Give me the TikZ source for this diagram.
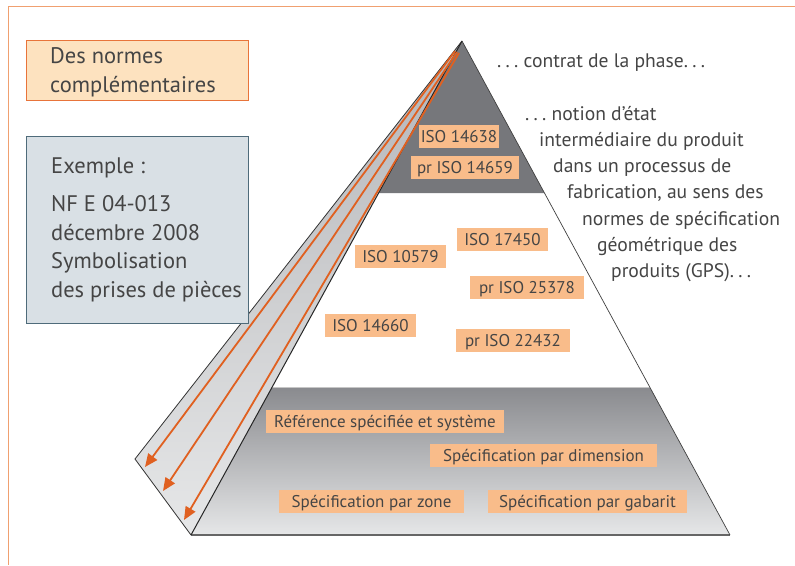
\documentclass[tikz,border=0pt]{standalone}
\usepackage{fontspec}
\setmainfont{PT Sans}
\usetikzlibrary{calc,arrows.meta}
\definecolor{frameor}{HTML}{F0A070}
\definecolor{lblfill}{HTML}{F9BC8A}
\definecolor{titlefill}{HTML}{FDE2BF}
\definecolor{titleedge}{HTML}{E8743A}
\definecolor{exfill}{HTML}{D9E0E5}
\definecolor{exedge}{HTML}{4F6B7A}
\definecolor{topband}{HTML}{76777B}
\definecolor{arrowor}{HTML}{E06020}
\definecolor{txt}{HTML}{454545}
\definecolor{bandtop}{HTML}{8A8B8F}
\definecolor{bandbot}{HTML}{E6E7E8}
\definecolor{sidetop}{HTML}{B4B5B8}
\definecolor{sidebot}{HTML}{E6E7E8}
\newcommand{\myell}{.\hspace{0.22em}.\hspace{0.22em}.}
\tikzset{
  lbl/.style={fill=lblfill, inner sep=0pt, minimum height=23pt, text=txt,
    font=\fontsize{17}{19}\selectfont, text height=12pt, text depth=0pt, anchor=center},
  rtext/.style={anchor=base west, inner sep=0pt, text=txt, font=\fontsize{19.6}{22}\selectfont},
  btext/.style={anchor=base west, inner sep=0pt, text=txt, font=\fontsize{22.5}{25}\selectfont},
  orarrow/.style={draw=arrowor, line width=1.8pt, -{Triangle[length=13pt,width=11pt]}},
}
\begin{document}
\begin{tikzpicture}[x=1pt,y=-1pt]
\useasboundingbox (0,0) rectangle (795,565);
\fill[white] (0,0) rectangle (795,565);
% frame
\draw[frameor, line width=1pt] (8,565) -- (8,6) -- (795,6);
% key points
\coordinate (A) at (462,41);
\coordinate (BL) at (191,535);
\coordinate (BR) at (730,535);
\coordinate (SL) at (135,459);
\coordinate (TL) at ($(A)!0.3077!(BL)$);
\coordinate (TR) at ($(A)!0.3077!(BR)$);
\coordinate (ML) at ($(A)!0.7024!(BL)$);
\coordinate (MR) at ($(A)!0.7024!(BR)$);
% side face
\shade[top color=sidetop, bottom color=sidebot] (A) -- (SL) -- (BL) -- cycle;
% front face
\fill[white] (A) -- (BL) -- (BR) -- cycle;
\fill[topband] (A) -- (TL) -- (TR) -- cycle;
\shade[top color=bandtop, bottom color=bandbot] (ML) -- (BL) -- (BR) -- (MR) -- cycle;
\draw[gray!45, line width=1pt] (ML) -- (MR);
\draw[gray!80!black, line width=1.2pt] (BL) -- (BR);
% edges
\draw[black!80, line width=0.8pt] (A) -- (SL) -- (BL);
\draw[black!85, line width=1pt] (A) -- (BL);
\draw[black!75, line width=0.7pt] (A) -- (BR);
% arrows
\coordinate (s1) at (455,51);
\coordinate (s2) at (457,52);
\coordinate (s3) at (459,53);
\coordinate (e1) at (145,467);
\coordinate (e2) at (163,491);
\coordinate (e3) at (184,520);
\draw[orarrow] (s1) -- (e1);
\draw[orarrow] (s2) -- (e2);
\draw[orarrow] (s3) -- (e3);
% labels
\node[lbl, minimum width=80pt] (l1) at (459,136.5) {ISO 14638};
\node[lbl, minimum width=108pt] (l2) at (465,167.5) {pr ISO 14659};
\node[lbl, minimum width=91pt] (l3) at (400.5,256.5) {ISO 10579};
\node[lbl, minimum width=91pt] (l4) at (502.5,239.5) {ISO 17450};
\node[lbl, minimum width=114pt] (l5) at (527,287.5) {pr ISO 25378};
\node[lbl, minimum width=91pt] (l6) at (370.5,325.5) {ISO 14660};
\node[lbl, minimum width=114pt] (l7) at (513,340.5) {pr ISO 22432};
\node[lbl, minimum width=238pt] (l8) at (385,421.5) {Référence spécifiée et système};
\node[lbl, minimum width=227pt] (l9) at (543.5,455.5) {Spécification par dimension};
\node[lbl, minimum width=185pt] (l10) at (371.5,501.5) {Spécification par zone};
\node[lbl, minimum width=199pt] (l11) at (587.5,501.5) {Spécification par gabarit};
% right texts
\node[rtext] (r0) at (497,67) {\myell\ contrat de la phase\myell};
\node[rtext] (r1) at (525,120) {\myell\ notion d’état};
\node[rtext] (r2) at (539,146) {intermédiaire du produit};
\node[rtext] (r3) at (553,172) {dans un processus de};
\node[rtext] (r4) at (567,198) {fabrication, au sens des};
\node[rtext] (r5) at (582,225) {normes de spécification};
\node[rtext] (r6) at (597,251) {géométrique des};
\node[rtext] (r7) at (611,277) {produits (GPS)\myell};
% left boxes
\draw[titleedge, fill=titlefill, line width=1pt] (26,40) rectangle (248,100);
\node[btext] (t1) at (50,63) {Des normes};
\node[btext] (t2) at (50,92) {complémentaires};
\draw[exedge, fill=exfill, line width=1pt] (26,136) rectangle (248,323);
\node[btext] (x1) at (51,173) {Exemple :};
\node[btext] (x2) at (51,211) {NF E 04-013};
\node[btext] (x3) at (51,240) {décembre 2008};
\node[btext] (x4) at (51,268) {Symbolisation};
\node[btext] (x5) at (51,297) {des prises de pièces};
\end{tikzpicture}
\end{document}
